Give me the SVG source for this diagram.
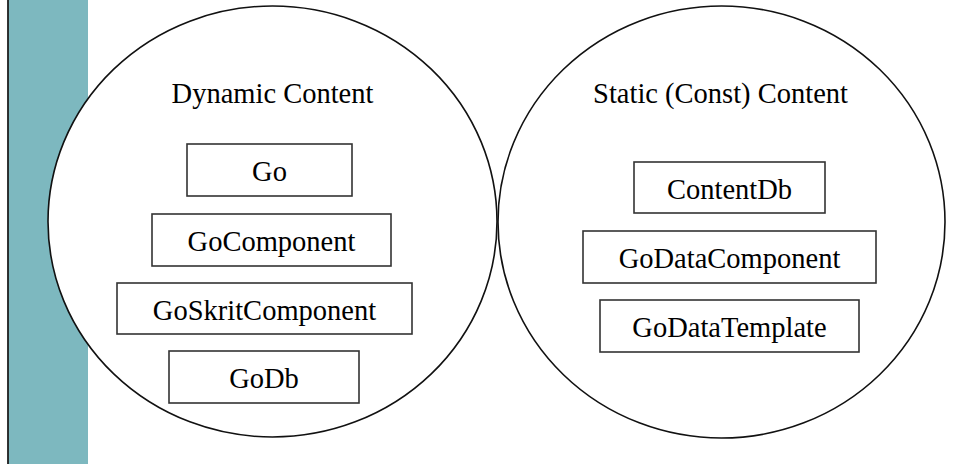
<svg xmlns="http://www.w3.org/2000/svg" width="962" height="464" viewBox="0 0 962 464">
<style>
.bg{fill:#ffffff}
.bar{fill:#7db8bf}
.edge{stroke:#000;stroke-width:1.6}
.circ{fill:#ffffff;stroke:#111;stroke-width:1.6}
.box{fill:#ffffff;stroke:#333;stroke-width:1.6}
.t{font-family:"Liberation Serif","Times New Roman",serif;font-size:28.5px;fill:#000;text-anchor:middle}
</style>
<rect class="bg" x="0" y="0" width="962" height="464"/>
<rect class="bar" x="8.5" y="0" width="79.5" height="464"/>
<line class="edge" x1="8" y1="0" x2="8" y2="464"/>
<g id="dynamic">
<ellipse class="circ" cx="272.5" cy="221.5" rx="224.5" ry="215.5"/>
<text class="t" x="272.5" y="103.3">Dynamic Content</text>
</g>
<g id="static">
<ellipse class="circ" cx="721.5" cy="222" rx="223.5" ry="216"/>
<text class="t" x="720.5" y="103.3">Static (Const) Content</text>
</g>
<g id="go">
<rect class="box" x="187" y="144" width="165" height="52"/>
<text class="t" x="269.5" y="181">Go</text>
</g>
<g id="gocomponent">
<rect class="box" x="152" y="214" width="239" height="52"/>
<text class="t" x="271.5" y="251">GoComponent</text>
</g>
<g id="goskritcomponent">
<rect class="box" x="117" y="283" width="295" height="51"/>
<text class="t" x="264.5" y="320">GoSkritComponent</text>
</g>
<g id="godb">
<rect class="box" x="169" y="351" width="190" height="52"/>
<text class="t" x="264" y="388">GoDb</text>
</g>
<g id="contentdb">
<rect class="box" x="634" y="162" width="191" height="51"/>
<text class="t" x="729.5" y="199">ContentDb</text>
</g>
<g id="godatacomponent">
<rect class="box" x="583" y="231" width="293" height="52"/>
<text class="t" x="729.5" y="268">GoDataComponent</text>
</g>
<g id="godatatemplate">
<rect class="box" x="600" y="300" width="259" height="52"/>
<text class="t" x="729.5" y="337">GoDataTemplate</text>
</g>
<g id="connectors"></g>
</svg>
